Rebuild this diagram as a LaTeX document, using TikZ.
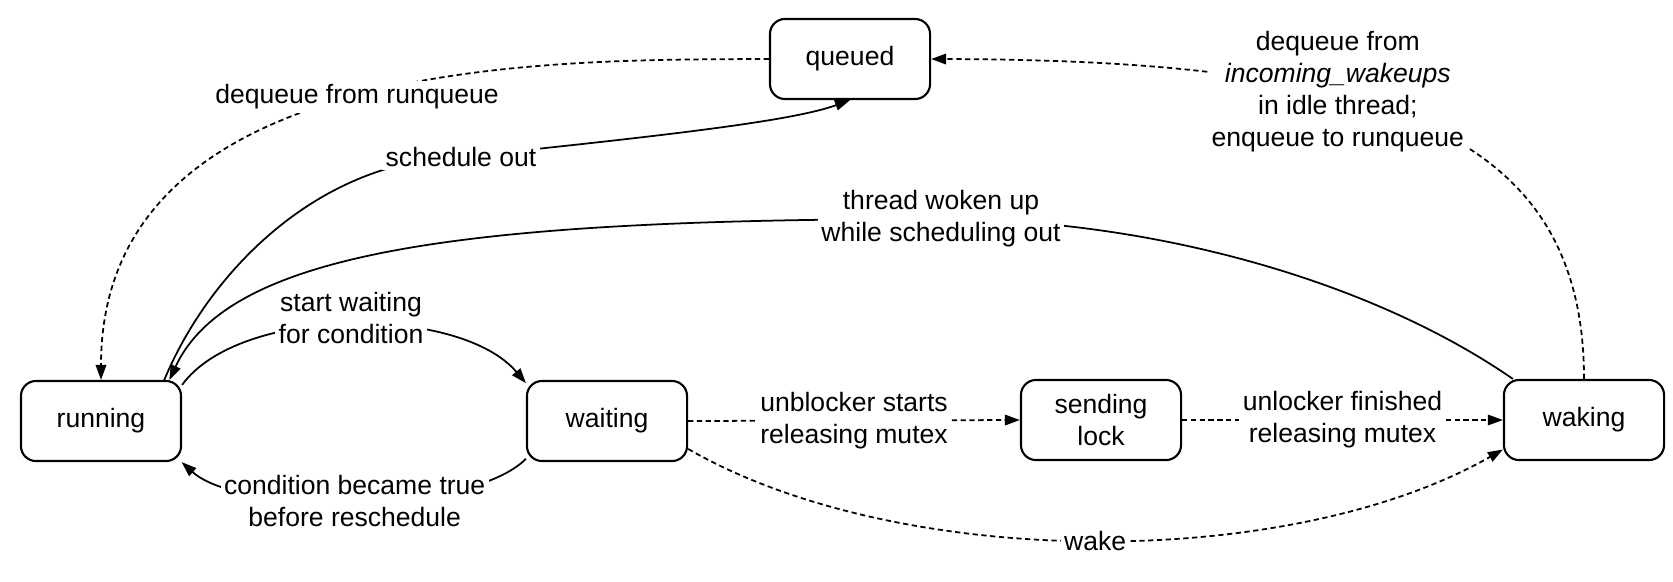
\documentclass[tikz,border=0pt]{standalone}
\usepackage{fontspec}
\setmainfont{Liberation Sans}
\usetikzlibrary{arrows.meta}

\begin{document}
\begin{tikzpicture}[
    x=0.01cm, y=-0.01cm,
    font=\fontsize{7.55}{9.1}\selectfont,
    state/.style={rectangle, draw, rounded corners=0.15cm, line width=0.6pt,
        minimum width=1.6cm, minimum height=0.8cm, align=center},
    trans/.style={line width=0.5pt, -{Triangle[length=1.5mm, width=1.05mm]}},
    dtrans/.style={trans, dash pattern=on 1.5pt off 1pt},
    tag/.style={fill=white, inner sep=1pt, align=center}
]
    \useasboundingbox (0,0) rectangle (1673,581);

    % States
    \node[state] (queued)  at (850,59)   {queued};
    \node[state] (running) at (101,421)  {running};
    \node[state] (waiting) at (607,421)  {waiting};
    \node[state] (sending) at (1101,420) {sending\\lock};
    \node[state] (waking)  at (1584,420) {waking};

    % Scheduler transitions
    \draw[dtrans] (queued.west) .. controls (561,60) and (101,52) .. (running.north)
        node[tag, pos=0.5] {dequeue from runqueue};
    \draw[trans] (running.33) .. controls (210,270) and (320,160) .. (461,157)
        node[tag] {schedule out}
        .. controls (650,137) and (790,122) .. (queued.south);
    \draw[trans] (waking.150) .. controls (1370,280) and (1150,219) .. (941,219)
        node[tag] {thread woken up\\while scheduling out}
        .. controls (470,219) and (230,250) .. (running.31);

    % Waiting for a condition
    \draw[trans] (running.24) .. controls (240,305) and (460,305) .. (waiting.155)
        node[tag, pos=0.5, yshift=2pt] {start waiting\\for condition};
    \draw[trans] (waiting.205) .. controls (470,515) and (240,515) .. (running.-27)
        node[tag, pos=0.5] {condition became true\\before reschedule};

    % Wakeup path
    \draw[dtrans] (waiting.east) -- (sending.west)
        node[tag, pos=0.5] {unblocker starts\\releasing mutex};
    \draw[dtrans] (sending.east) -- (waking.west)
        node[tag, pos=0.5] {unlocker finished\\releasing mutex};
    \draw[dtrans] (waiting.-19) .. controls (900,571) and (1290,571) .. (waking.200)
        node[tag, pos=0.5] {wake};
    \draw[dtrans] (waking.north) .. controls (1584,130) and (1380,60) .. (queued.east)
        node[tag, pos=0.6, xshift=-0.17cm, yshift=0.09cm]
            {dequeue from\\\textit{incoming\_wakeups}\\in idle thread;\\enqueue to runqueue};

\end{tikzpicture}
\end{document}
